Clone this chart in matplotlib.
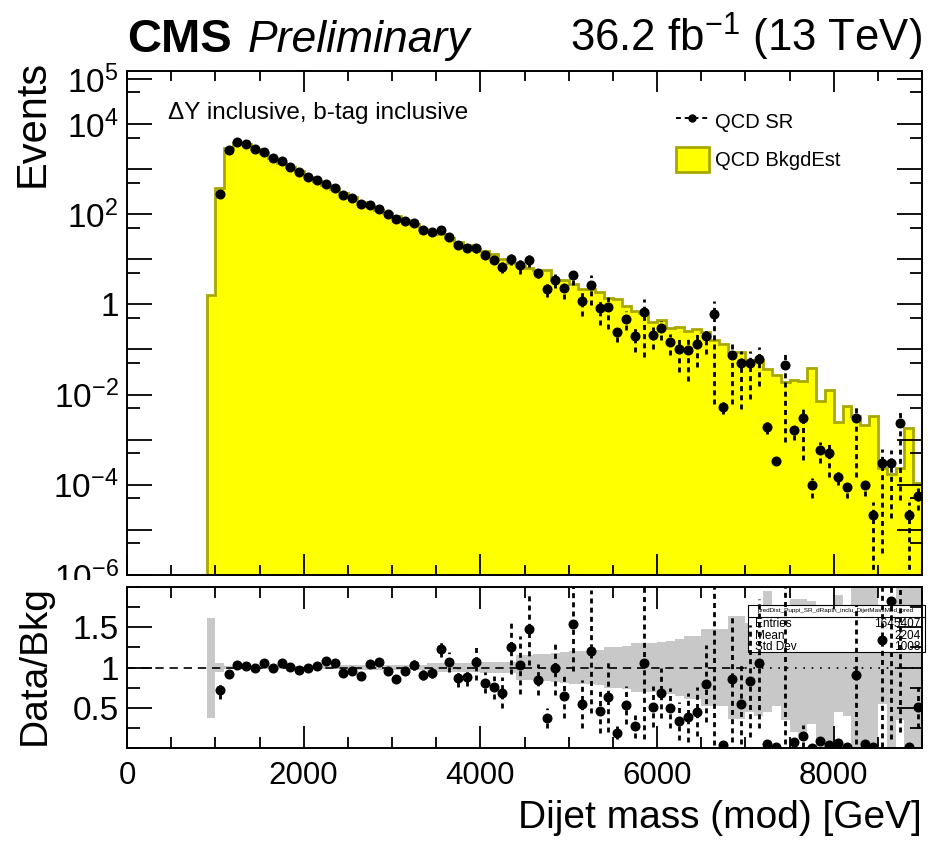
import numpy as np
import matplotlib
matplotlib.use("Agg")
import matplotlib.pyplot as plt
from matplotlib.lines import Line2D
from matplotlib.patches import Patch, Rectangle
from matplotlib.ticker import MultipleLocator, FixedLocator, LogLocator, NullFormatter

plt.rcParams['font.family'] = ['Liberation Sans', 'DejaVu Sans']
plt.rcParams['mathtext.fontset'] = 'custom'
plt.rcParams['mathtext.rm'] = 'Liberation Sans'
plt.rcParams['mathtext.it'] = 'Liberation Sans:italic'
plt.rcParams['mathtext.bf'] = 'Liberation Sans:bold'
plt.rcParams['mathtext.default'] = 'regular'

# 100 GeV bins, 900 -> 9000 GeV
edges = np.arange(900, 9001, 100)
centers = 0.5 * (edges[:-1] + edges[1:])

# QCD SR (data-like points)
sr_counts = [0, 275, 2650, 3900, 3650, 2830, 2400, 1760, 1480, 1125,
             865, 680, 563, 475, 375, 272, 229, 171, 157, 133,
             99, 77, 71, 63, 43.5, 40, 45.7, 32, 21, 18.2,
             17.9, 12.3, 9.7, 6.8, 10.4, 7.3, 9.6, 5.0, 2.15, 3.45,
             2.26, 4.4, 1.2, 2.7, 0.84, 0.89, 0.25, 0.48, 0.196, 0.69,
             0.21, 0.30, 0.149, 0.105, 0.099, 0.13, 0.196, 0.61, 0.0053, 0.077,
             0.049, 0.05, 0.063, 0.0019, 0.00033, 0.0455, 0.0016, 0.0030, 9.8e-5, 6e-4,
             5e-4, 1.47e-4, 8.9e-5, 0.0030, 9.8e-5, 2.1e-5, 3.1e-4, 3.1e-4, 0.0023, 2.1e-5,
             5.6e-5]
# relative uncertainty of the SR points
sr_relerr = [0, 0.15, 0.02, 0.02, 0.02, 0.02, 0.02, 0.02, 0.02, 0.02,
             0.02, 0.02, 0.02, 0.03, 0.03, 0.03, 0.03, 0.04, 0.04, 0.05,
             0.05, 0.06, 0.06, 0.06, 0.07, 0.07, 0.08, 0.12, 0.13, 0.13,
             0.21, 0.16, 0.19, 0.28, 0.27, 0.35, 0.3, 0.23, 0.33, 0.34,
             0.42, 0.38, 0.55, 0.64, 0.58, 0.68, 0.4, 0.45, 0.54, 0.9,
             0.5, 0.45, 0.5, 0.7, 0.8, 0.68, 0.6, 0.99, 0.3, 0.92,
             0.9, 0.84, 0.76, 0.3, 0.1, 0.98, 0.37, 0.88, 0.48, 0.5,
             0.7, 0.32, 0.43, 0.95, 0.42, 0.99, 0.99, 0.94, 0.98, 0.99,
             0.5]
# QCD background estimate
bkg_est = [1.6, 382, 2880, 3800, 3580, 2830, 2260, 1760, 1400, 1115,
           890, 680, 552, 440, 354, 292, 238, 190, 151, 124,
           104, 90, 74, 61, 48, 43, 37, 30, 24, 20.7,
           16.7, 15.2, 12.9, 9.9, 8.3, 7.1, 6.5, 5.9, 5.7, 3.45,
           3.5, 2.86, 2.2, 2.25, 1.85, 1.4, 1.3, 0.9, 0.73, 0.65,
           0.41, 0.44, 0.30, 0.31, 0.26, 0.29, 0.245, 0.16, 0.13, 0.09,
           0.09, 0.06, 0.06, 0.037, 0.027, 0.0195, 0.021, 0.020, 0.038, 0.0071,
           0.0127, 0.00245, 0.0057, 0.0033, 0.0021, 0.0033, 2.3e-4, 1.7e-4, 2.3e-4, 0.0018,
           1.1e-4]
# background uncertainty band in the ratio
band_lo = [0.375, 0.95, 0.98, 0.98, 0.98, 0.98, 0.98, 0.98, 0.98, 0.98,
           0.98, 0.98, 0.98, 0.98, 0.98, 0.97, 0.97, 0.97, 0.97, 0.97,
           0.97, 0.97, 0.97, 0.97, 0.97, 0.95, 0.95, 0.95, 0.95, 0.95,
           0.95, 0.93, 0.93, 0.93, 0.93, 0.85, 0.84, 0.83, 0.83, 0.82,
           0.81, 0.8, 0.8, 0.79, 0.78, 0.75, 0.74, 0.73, 0.7, 0.7,
           0.7, 0.68, 0.67, 0.65, 0.61, 0.61, 0.52, 0.52, 0.52, 0.36,
           0.36, 0.45, 0.4, 0.45, 0.52, 0.35, 0.2, 0.15, 0.3, 0.0,
           0.0, 0.45, 0.4, 0.0, 0.0, 0.0, 0.55, 0.0, 0.35, 0.0,
           0.0]
band_hi = [1.62, 1.05, 1.02, 1.02, 1.02, 1.02, 1.02, 1.02, 1.02, 1.02,
           1.02, 1.02, 1.02, 1.02, 1.02, 1.03, 1.03, 1.03, 1.03, 1.03,
           1.03, 1.03, 1.03, 1.03, 1.03, 1.05, 1.05, 1.05, 1.05, 1.05,
           1.05, 1.07, 1.07, 1.07, 1.07, 1.15, 1.16, 1.17, 1.17, 1.18,
           1.19, 1.2, 1.2, 1.21, 1.22, 1.25, 1.26, 1.27, 1.3, 1.3,
           1.3, 1.32, 1.33, 1.35, 1.39, 1.39, 1.48, 1.48, 1.48, 1.64,
           1.64, 1.55, 1.6, 1.95, 1.5, 1.6, 1.85, 1.85, 1.83, 1.6,
           1.5, 1.9, 1.7, 2.0, 2.0, 2.0, 1.5, 1.6, 2.0, 2.0,
           2.0]

ytick_exp = [-6, -5, -4, -3, -2, -1, 0, 1, 2, 3, 4, 5]
ytick_text = ['$10^{-6}$', '', '$10^{-4}$', '', '$10^{-2}$', '', '1', '', '$10^{2}$', '', '$10^{4}$', '$10^{5}$']
stats_rows = [("Entries", "1645407"), ("Mean", "2204"), ("Std Dev", "1008")]

sr = np.array(sr_counts)
err = sr * np.array(sr_relerr)
bkg = np.array(bkg_est)
has = sr > 0

W, H = 941, 843
fig = plt.figure(figsize=(W / 100, H / 100), dpi=100)
ax1 = fig.add_axes([127 / W, 1 - 575 / H, 795 / W, 504 / H], zorder=0)
ax2 = fig.add_axes([127 / W, 1 - 748 / H, 795 / W, 161 / H], zorder=2)

dash = (0, (1.8, 1.5))
yellow, olive = '#ffff00', '#a8a800'

# ---- top panel
ax1.stairs(bkg, edges, baseline=1e-7, fill=True, facecolor=yellow, zorder=1)
ax1.stairs(bkg, edges, baseline=1e-7, color=olive, lw=2, zorder=1.2)
lo = np.clip(sr - err, 1e-8, None)
ax1.vlines(centers[has], lo[has], (sr + err)[has], colors='black', linestyles=dash, lw=2.0, zorder=3)
ax1.plot(centers[has], sr[has], 'o', color='black', ms=6.2, zorder=4)

ax1.set_xlim(0, 9000)
ax1.set_yscale('log')
ax1.set_ylim(1e-6, 10 ** 5.175)
ax1.yaxis.set_major_locator(FixedLocator([10.0 ** e for e in ytick_exp]))
ax1.set_yticklabels(ytick_text)
ax1.yaxis.set_minor_locator(LogLocator(base=10, subs=[5], numticks=30))
ax1.yaxis.set_minor_formatter(NullFormatter())
ax1.xaxis.set_major_locator(MultipleLocator(2000))
ax1.xaxis.set_minor_locator(MultipleLocator(500))
ax1.tick_params(axis='both', which='both', direction='in', top=True, right=True, width=1.3, labelbottom=False)
ax1.tick_params(axis='y', which='major', length=18, labelsize=24, pad=6)
ax1.tick_params(axis='y', which='minor', length=9)
ax1.tick_params(axis='x', which='major', length=15)
ax1.tick_params(axis='x', which='minor', length=7)
for s in ax1.spines.values():
    s.set_linewidth(1.4)

ax1.text(0.052, 0.917, "ΔY inclusive, b-tag inclusive", transform=ax1.transAxes,
         fontsize=17.5, va='center', ha='left')
h_sr = Line2D([], [], color='black', marker='o', ms=5, ls=(0, (2.5, 2)), lw=1.4)
h_bkg = Patch(facecolor=yellow, edgecolor=olive, lw=2)
ax1.legend([h_sr, h_bkg], ['QCD SR', 'QCD BkgdEst'], loc='upper left',
           bbox_to_anchor=(0.69, 0.925), frameon=False, fontsize=14.5,
           handlelength=1.65, handleheight=1.5, handletextpad=0.3,
           labelspacing=0.68, borderaxespad=0, borderpad=0)

# ---- ratio panel
ratio = np.where(has, sr / bkg, np.nan)
rerr = err / bkg
ax2.stairs(band_hi, edges, baseline=band_lo, fill=True, color='#c8c8c8', lw=0, zorder=1)
ax2.plot([0, 7000], [1, 1], color='black', lw=1.2, ls=(0, (5, 3.5)), zorder=1.5)
ax2.plot([7000, 9000], [1, 1], color='black', lw=1.2, ls=(0, (1, 4)), zorder=1.5)

ax2.add_patch(Rectangle((0.781, 0.596), 0.223, 0.292, transform=ax2.transAxes,
                        facecolor='white', edgecolor='black', lw=0.8, zorder=2.2, clip_on=False))
ax2.plot([0.781, 1.004], [0.814, 0.814], transform=ax2.transAxes, color='black', lw=0.8,
         zorder=2.3, clip_on=False)
ax2.text(0.892, 0.851, "predDist_Puppi_SR_dRapIn_inclu_DijetMassMod_pred", transform=ax2.transAxes,
         fontsize=4.6, ha='center', va='center', zorder=2.4)
for k, (name, val) in enumerate(stats_rows):
    yy = 0.768 - k * 0.07
    ax2.text(0.79, yy, name, transform=ax2.transAxes, fontsize=8.5, ha='left', va='center', zorder=2.4)
    ax2.text(0.998, yy, val, transform=ax2.transAxes, fontsize=8.5, ha='right', va='center', zorder=2.4)

ax2.vlines(centers[has], (ratio - rerr)[has], (ratio + rerr)[has], colors='black',
           linestyles=dash, lw=2.0, zorder=3)
ax2.plot(centers[has], ratio[has], 'o', color='black', ms=6.2, zorder=4)

ax2.set_xlim(0, 9000)
ax2.set_ylim(0, 2)
ax2.set_axisbelow(False)
ax2.yaxis.set_major_locator(FixedLocator([0.5, 1.0, 1.5]))
ax2.set_yticklabels(['0.5', '1', '1.5'])
ax2.yaxis.set_minor_locator(MultipleLocator(0.25))
ax2.xaxis.set_major_locator(MultipleLocator(2000))
ax2.xaxis.set_minor_locator(MultipleLocator(500))
ax2.tick_params(axis='both', which='both', direction='in', top=True, right=True, width=1.3)
ax2.tick_params(axis='y', which='major', length=18, labelsize=24, pad=6)
ax2.tick_params(axis='y', which='minor', length=9)
ax2.tick_params(axis='x', which='major', length=16, labelsize=22.5, pad=9)
ax2.tick_params(axis='x', which='minor', length=8)
for s in ax2.spines.values():
    s.set_linewidth(1.4)

# white strip: the ratio pad hides the lower part of the top panel's last label
fig.add_artist(Rectangle((0, 1 - 748 / H), 127 / W, (748 - 580) / H, transform=fig.transFigure,
                         facecolor='white', edgecolor='none', zorder=1))

# ---- titles
fig.text(127 / W, 1 - 52 / H, "CMS", fontsize=34, fontweight='bold', ha='left', va='baseline')
fig.text(248 / W, 1 - 52 / H, "Preliminary", fontsize=32, style='italic', ha='left', va='baseline')
fig.text(922 / W, 1 - 52 / H, "36.2 fb$^{-1}$ (13 TeV)", fontsize=31.5, ha='right', va='baseline')
fig.text(33 / W, 1 - 60 / H, "Events", fontsize=30, rotation=90, ha='center', va='top')
fig.text(35 / W, 1 - 665 / H, "Data/Bkg", fontsize=28, rotation=90, ha='center', va='center')
fig.text(922 / W, 1 - 818 / H, "Dijet mass (mod) [GeV]", fontsize=28, ha='right', va='center')

fig.savefig("out.png", dpi=100)
